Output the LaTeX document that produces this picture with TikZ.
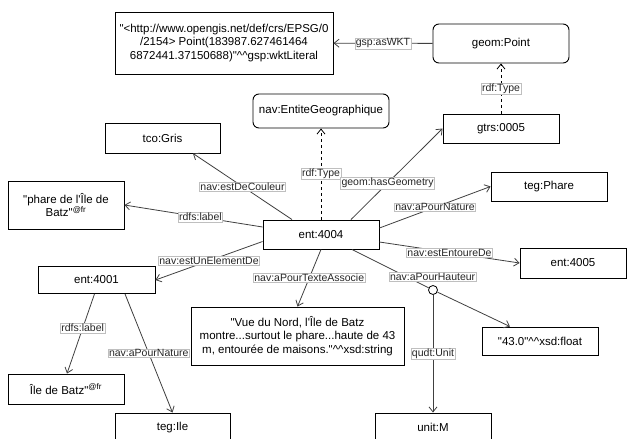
\documentclass[tikz,border=0pt]{standalone}
\usepackage{fontspec}
\setmainfont{Liberation Sans}[Ligatures=TeXOff]
\usepackage{tikz}
\usetikzlibrary{arrows.meta}
\newcommand{\Typ}{\textasciicircum\textasciicircum}
\tikzset{
  Kasten/.style={draw, line width=0.9pt, fill=white, minimum width=#1,
    minimum height=29pt, inner sep=2pt, align=center,
    font=\fontsize{11.5}{13.5}\selectfont}, % für Knoten
  Kasten/.default=116pt,
  RKasten/.style={Kasten=#1, rounded corners=6pt}, % abgerundete Knoten
  RKasten/.default=136pt,
  Linie/.style={draw=black!75, line width=0.8pt},
  Pfeil/.style={Linie, ->}, % für Kanten
  TPfeil/.style={Pfeil, draw=black, dash pattern=on 3pt off 3pt}, % für rdf:Type
  Etikett/.style={draw=black!25, solid, line width=0.5pt, fill=white, inner sep=0.8pt,
    text=black!85, font=\fontsize{10.5}{12}\selectfont} % für Kantenbeschriftung
}

\begin{document}
\begin{tikzpicture}[x=1pt, y=-1pt,
>={Straight Barb[length=5pt,width=8pt]} % Voreinstellung für Pfeilspitzen
]
\useasboundingbox (0,0) rectangle (627,439);
\clip (0,0) rectangle (627,439);

%Knoten
\node[Kasten=218pt, minimum height=62pt] (WKT) at (224,43)
  {"<http://www.opengis.net/def/crs/EPSG/0\\/2154> Point(183987.627461464\\6872441.37150688)"\Typ{}gsp:wktLiteral};
\node[RKasten, minimum height=39pt] (Punkt) at (501,43.5) {geom:Point};
\node[Kasten] (Gtrs) at (501,128.5) {gtrs:0005};
\node[RKasten, minimum height=34pt] (Entite) at (321,111) {nav:EntiteGeographique};
\node[Kasten=115pt, minimum height=30pt] (Gris) at (162.5,138) {tco:Gris};
\node[Kasten, minimum height=48pt] (LPhare) at (66,205) {"phare de l'Île de\\Batz"\textsuperscript{@fr}};
\node[Kasten] (E4004) at (321,234.5) {ent:4004};
\node[Kasten] (Phare) at (549,186.5) {teg:Phare};
\node[Kasten=106pt, minimum height=30pt] (E4005) at (573,263) {ent:4005};
\node[Kasten=117pt, minimum height=27pt] (E4001) at (96.5,280) {ent:4001};
\node[Kasten=213pt, minimum height=58pt] (Text) at (297.5,336)
  {"Vue du Nord, l'Île de Batz\\montre...surtout le phare...haute de 43\\m, entourée de maisons."\Typ{}xsd:string};
\node[Kasten, minimum height=30pt] (LIle) at (66,389) {Île de Batz"\textsuperscript{@fr}};
\node[Kasten=115pt] (Ile) at (172.5,427.5) {teg:Ile};
\node[Kasten] (UnitM) at (433,427.5) {unit:M};
\node[Kasten, minimum height=28pt] (F43) at (540,341) {"43.0"\Typ{}xsd:float};
\node[circle, draw, line width=0.8pt, fill=white, minimum size=9pt, inner sep=0pt] (Kreis) at (433,290) {};

%Kanten
\draw[Pfeil] (Punkt) -- node[Etikett]{gsp:asWKT} (WKT);
\draw[TPfeil] (Gtrs) -- node[Etikett]{rdf:Type} (Punkt);
\draw[TPfeil] (E4004) -- node[Etikett]{rdf:Type} (Entite);
\draw[Pfeil] ([xshift=30pt]E4004.north) -- node[Etikett, pos=0.4]{geom:hasGeometry} (Gtrs.west);
\draw[Pfeil] ([xshift=-29pt]E4004.north) -- node[Etikett]{nav:estDeCouleur} ([xshift=30.5pt]Gris.south);
\draw[Pfeil] ([yshift=7.5pt]E4004.west) -- node[Etikett, pos=0.45]{rdfs:label} (LPhare.east);
\draw[Pfeil] ([yshift=-7pt]E4004.west) -- node[Etikett]{nav:estUnElementDe} (E4001.east);
\draw[Pfeil] (E4004.south) -- node[Etikett]{nav:aPourTexteAssocie} (Text.north);
\draw[Pfeil] ([yshift=6.5pt]E4004.east) -- node[Etikett]{nav:aPourNature} (Phare.west);
\draw[Pfeil] ([yshift=-7.5pt]E4004.east) -- node[Etikett]{nav:estEntoureDe} (E4005.west);
\draw[Linie] ([xshift=31pt]E4004.south) -- node[Etikett, pos=1, xshift=4pt, yshift=11pt]{nav:aPourHauteur} (Kreis);
\draw[Pfeil] (Kreis) -- ([xshift=-30pt]F43.north);
\draw[Pfeil] (Kreis) -- node[Etikett]{qudt:Unit} (UnitM);
\draw[Pfeil] ([xshift=-2pt]E4001.south) -- node[Etikett, pos=0.43]{rdfs:label} ([xshift=1pt]LIle.north);
\draw[Pfeil] ([xshift=28.5pt]E4001.south) -- node[Etikett]{nav:aPourNature} (Ile.north);

\end{tikzpicture}
\end{document}
